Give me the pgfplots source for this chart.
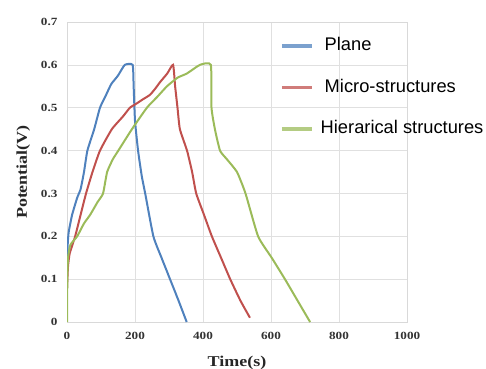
\documentclass[border=0pt]{standalone}
\usepackage{pgfplots}
\pgfplotsset{compat=1.18}
\usepackage{fontspec}
\setmainfont{Liberation Serif}
\newfontfamily\labfont[FakeStretch=1.2]{Liberation Serif}
\newfontfamily\legfont{Liberation Sans}
\definecolor{cblue}{RGB}{79,129,189}
\definecolor{cred}{RGB}{192,80,77}
\definecolor{cgreen}{RGB}{155,187,89}
\begin{document}
\begin{tikzpicture}
\useasboundingbox (0,0) rectangle (486pt,368pt);
\begin{axis}[
  scale only axis,
  width=340pt, height=300pt,
  anchor=south west, at={(67pt,46pt)},
  xmin=0, xmax=1000, ymin=0, ymax=0.7,
  xtick={0,200,400,600,800,1000},
  ytick={0,0.1,0.2,0.3,0.4,0.5,0.6,0.7},
  yticklabels={0,0.1,0.2,0.3,0.4,0.5,0.6,0.7},
  xticklabels={0,200,400,600,800,1000},
  tick style={draw=none},
  grid=major,
  grid style={draw=black!12, line width=0.6pt},
  axis line style={draw=black!15, line width=0.6pt},
  tick label style={font=\labfont\bfseries\fontsize{11}{13}\selectfont, text=black!80},
  xticklabel style={yshift=-7pt},
  yticklabel style={xshift=-6pt},
  xlabel={Time(s)},
  ylabel={Potential(V)},
  label style={font=\labfont\bfseries\fontsize{15}{17}\selectfont, text=black!85},
  xlabel style={yshift=-9pt},
  ylabel style={yshift=4pt},
  legend style={draw=none, fill=none, at={(rel axis cs:0.6265,0.95)}, anchor=north west,
    font=\legfont\fontsize{18.3}{21}\selectfont, row sep=24pt, inner sep=0pt,
    nodes={inner sep=0pt, text height=13.5pt, text depth=4pt},
    column sep=0pt},
  legend cell align=left,
  legend image code/.code={\draw[#1, line width=3.5pt, opacity=0.75] (0pt,0pt) -- (30pt,0pt);},
]
\addplot[cblue, line width=2pt, smooth, tension=0.3] coordinates {
(0,0.12)(2,0.18)(5,0.21)(15,0.25)(30,0.29)(40,0.31)(50,0.35)(60,0.40)(80,0.45)(97,0.50)(115,0.53)(130,0.555)(150,0.575)(170,0.60)(193,0.60)(196,0.55)(200,0.47)(209,0.40)(220,0.34)(230,0.30)(254,0.20)(278,0.15)(303,0.10)(328,0.05)(352,0.0)};
\addlegendentry{\hspace{11pt}Plane}
\addplot[cred, line width=2pt, smooth, tension=0.3] coordinates {
(0,0.08)(3,0.13)(8,0.16)(24,0.20)(40,0.25)(56,0.30)(75,0.35)(97,0.40)(132,0.45)(165,0.48)(185,0.50)(205,0.51)(224,0.52)(244,0.53)(260,0.545)(274,0.56)(295,0.58)(312,0.60)(318,0.55)(325,0.50)(332,0.45)(353,0.40)(368,0.35)(380,0.30)(403,0.25)(426,0.20)(453,0.15)(480,0.10)(510,0.05)(538,0.01)};
\addlegendentry{\hspace{11pt}Micro-structures}
\addplot[cgreen, line width=2pt, smooth, tension=0.3] coordinates {
(0,0)(1,0.10)(3,0.15)(10,0.18)(30,0.20)(50,0.23)(68,0.25)(90,0.28)(106,0.30)(118,0.35)(135,0.38)(151,0.40)(191,0.45)(235,0.50)(265,0.525)(294,0.55)(325,0.57)(353,0.58)(391,0.60)(423,0.60)(425,0.50)(435,0.45)(450,0.40)(470,0.38)(500,0.35)(525,0.30)(562,0.20)(602,0.15)(641,0.10)(678,0.05)(715,0.0)};
\addlegendentry{\hspace{7pt}Hierarical structures}
\end{axis}
\end{tikzpicture}
\end{document}
